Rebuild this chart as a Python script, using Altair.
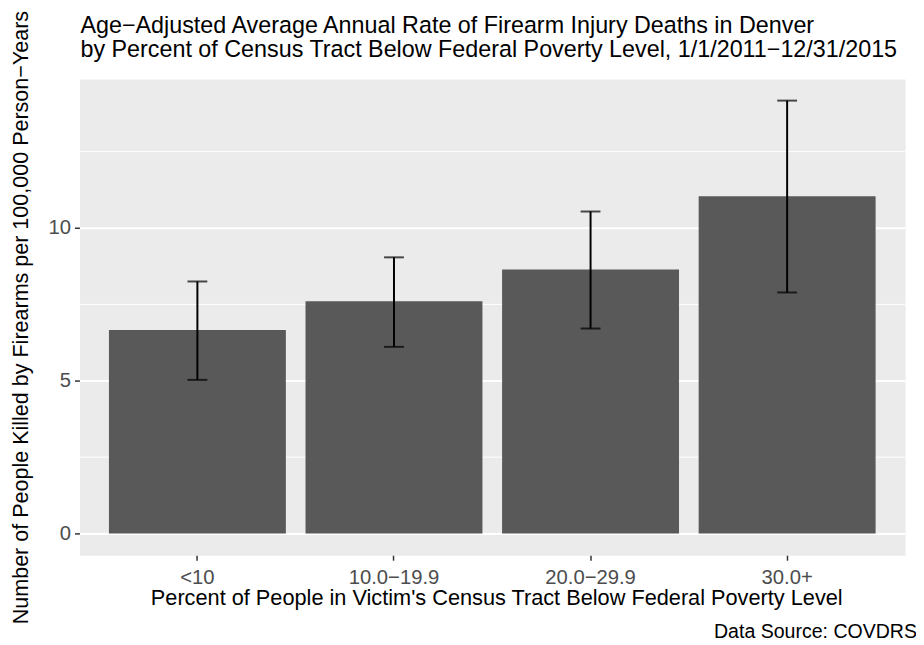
import altair as alt
import pandas as pd

FONT = "Liberation Sans"

categories = ["<10", "10.0−19.9", "20.0−29.9", "30.0+"]
rates = [6.66, 7.60, 8.64, 11.04]
lower = [5.03, 6.11, 6.71, 7.89]
upper = [8.25, 9.04, 10.54, 14.17]
major_ticks = [0, 5, 10]
minor_grid = [2.5, 7.5, 12.5]

title_lines = [
    "Age−Adjusted Average Annual Rate of Firearm Injury Deaths in Denver",
    "by Percent of Census Tract Below Federal Poverty Level, 1/1/2011−12/31/2015",
]
x_title = "Percent of People in Victim's Census Tract Below Federal Poverty Level"
y_title = "Number of People Killed by Firearms per 100,000 Person−Years"
caption = "Data Source: COVDRS"

df = pd.DataFrame({"cat": categories, "rate": rates, "lo": lower, "hi": upper})
grid_df = pd.DataFrame({"v": minor_grid})
cap_df = pd.DataFrame({"caption": [caption]})
title_df = pd.DataFrame({"title": ["\n".join(title_lines)]})

W, H = 832, 480

xscale = alt.Scale(domain=categories, paddingInner=0.1, paddingOuter=0.15)
yscale = alt.Scale(domain=[-0.71, 14.88], nice=False, zero=False)

xaxis = alt.Axis(
    title=x_title, labelAngle=0, domain=False, grid=False,
    tickColor="#333333", tickSize=5, tickWidth=1.5,
    labelColor="#4D4D4D", labelFontSize=20.4, labelPadding=7, labelFont=FONT,
    titleFontSize=21.9, titleColor="black", titleFontWeight="normal", titleFont=FONT,
    titleBaseline="alphabetic", titleY=50, titleX=W / 2 + 4, titleAlign="center",
)
yaxis = alt.Axis(
    title=y_title, values=major_ticks, domain=False, grid=True,
    gridColor="white", gridWidth=2,
    tickColor="#333333", tickSize=5, tickWidth=1.5,
    labelColor="#4D4D4D", labelFontSize=20.4, labelPadding=4, labelFont=FONT,
    titleFontSize=21.7, titleColor="black", titleFontWeight="normal", titleFont=FONT,
    titleX=-52, titleY=H / 2, titleAngle=270, titleBaseline="alphabetic", titleAlign="center",
)

grid = alt.Chart(grid_df).mark_rule(color="white", strokeWidth=1).encode(
    y=alt.Y("v:Q", scale=yscale, axis=yaxis)
)

bars = alt.Chart(df).mark_bar(color="#595959").encode(
    x=alt.X("cat:N", scale=xscale, axis=xaxis, sort=categories),
    y=alt.Y("rate:Q", scale=yscale, axis=yaxis),
)

err = alt.Chart(df).mark_rule(color="black", strokeWidth=2).encode(
    x=alt.X("cat:N", scale=xscale, axis=xaxis, sort=categories),
    y=alt.Y("lo:Q", scale=yscale, axis=yaxis),
    y2="hi:Q",
)

caps_lo = alt.Chart(df).mark_tick(color="black", thickness=2, size=20, orient="horizontal").encode(
    x=alt.X("cat:N", scale=xscale, axis=xaxis, sort=categories),
    y=alt.Y("lo:Q", scale=yscale, axis=yaxis),
)
caps_hi = alt.Chart(df).mark_tick(color="black", thickness=2, size=20, orient="horizontal").encode(
    x=alt.X("cat:N", scale=xscale, axis=xaxis, sort=categories),
    y=alt.Y("hi:Q", scale=yscale, axis=yaxis),
)

title_text = alt.Chart(title_df).mark_text(
    align="left", baseline="alphabetic", fontSize=23.5, font=FONT, color="black",
    lineBreak="\n", lineHeight=24,
).encode(
    text="title:N",
    x=alt.value(1),
    y=alt.value(-46),
)

cap_text = alt.Chart(cap_df).mark_text(
    align="right", baseline="alphabetic", fontSize=19.7, font=FONT, color="black"
).encode(
    text="caption:N",
    x=alt.value(W + 12),
    y=alt.value(H + 83),
)

chart = alt.layer(grid, bars, err, caps_lo, caps_hi, title_text, cap_text).properties(
    width=W, height=H,
    autosize=alt.AutoSizeParams(type="none"),
    padding={"left": 72, "top": 69, "right": 11, "bottom": 88},
).configure(background="white").configure_view(fill="#EBEBEB", stroke="transparent")

chart.save("out.html", embed_options={"renderer": "svg", "actions": False})
